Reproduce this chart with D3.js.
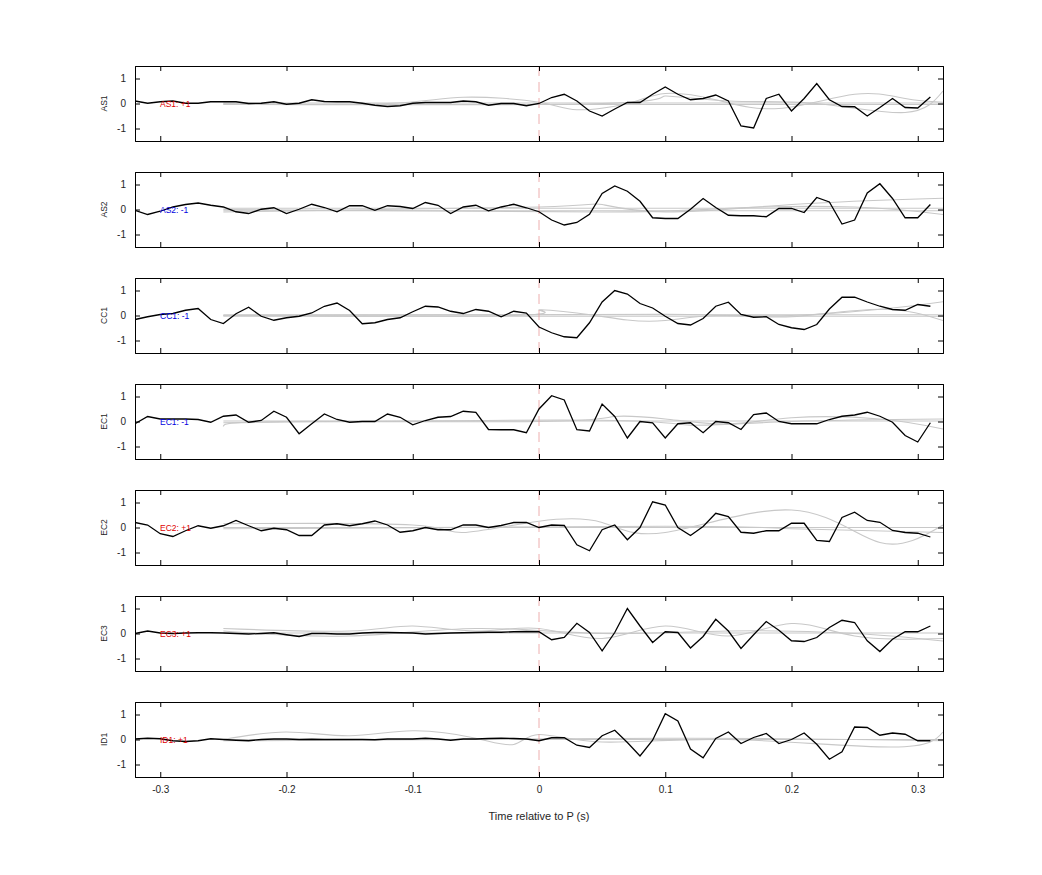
<!DOCTYPE html>
<html><head><meta charset="utf-8">
<script src="https://cdn.jsdelivr.net/npm/d3@7"></script>
<style>body{margin:0;background:#fff;font-family:"Liberation Sans",Arial,sans-serif}</style>
</head><body><div id="chart"></div>
<script>
// station names and polarity labels
const stations = ["AS1", "AS2", "CC1", "EC1", "EC2", "EC3", "ID1"];
const polarity = ["+1", "-1", "-1", "-1", "+1", "+1", "+1"];
const xTicks = [-0.3, -0.2, -0.1, 0, 0.1, 0.2, 0.3];
const yTicks = [-1, 0, 1];

// black trace, samples every 0.01 s from -0.32 to 0.31
const AS1 = [0.1,0.01,0.07,0.1,0.01,0.01,0.07,0.07,0.07,0,0.01,0.07,-0.03,0.01,0.15,0.08,0.07,0.07,0.01,-0.07,-0.12,-0.09,0.01,0.04,0.04,0.04,0.1,0.07,-0.07,0,0,-0.09,
  0,0.24,0.37,0.1,-0.3,-0.5,-0.22,0.04,0.04,0.37,0.66,0.37,0.15,0.2,0.34,0.1,-0.9,-0.98,0.2,0.37,-0.3,0.2,0.8,0.15,-0.12,-0.13,-0.5,-0.16,0.2,-0.16,-0.18,0.26];
const AS2 = [-0.03,-0.2,-0.07,0.1,0.2,0.26,0.17,0.1,-0.09,-0.16,0.01,0.07,-0.16,0.01,0.21,0.08,-0.09,0.15,0.15,-0.03,0.15,0.12,0.04,0.28,0.17,-0.16,0.1,0.17,-0.05,0.1,0.21,0.07,
  -0.09,-0.42,-0.62,-0.52,-0.19,0.64,0.94,0.73,0.33,-0.33,-0.36,-0.36,0.01,0.44,0.08,-0.23,-0.25,-0.25,-0.29,0.04,0.04,-0.12,0.48,0.3,-0.58,-0.42,0.66,1.03,0.44,-0.33,-0.33,0.2];
const CC1 = [-0.16,-0.05,0.04,0.08,0.21,0.28,-0.16,-0.32,0.07,0.33,-0.03,-0.19,-0.09,-0.03,0.1,0.37,0.5,0.2,-0.33,-0.29,-0.16,-0.09,0.15,0.37,0.34,0.17,0.08,0.24,0.17,-0.05,0.17,0.1,
  -0.46,-0.69,-0.85,-0.89,-0.29,0.54,1.0,0.86,0.48,0.3,-0.03,-0.32,-0.38,-0.12,0.37,0.53,0.04,-0.07,-0.05,-0.36,-0.49,-0.56,-0.36,0.26,0.73,0.73,0.54,0.37,0.24,0.21,0.44,0.37];
const EC1 = [-0.09,0.2,0.1,0.1,0.1,0.08,-0.03,0.21,0.26,-0.03,0.04,0.41,0.17,-0.49,-0.09,0.3,0.08,-0.03,0,0,0.3,0.17,-0.13,0.04,0.17,0.2,0.41,0.37,-0.32,-0.33,-0.33,-0.45,
  0.5,1.03,0.86,-0.33,-0.38,0.7,0.2,-0.66,0,-0.05,-0.66,-0.09,-0.05,-0.45,0,-0.05,-0.32,0.28,0.34,0,-0.09,-0.09,-0.09,0.08,0.21,0.26,0.37,0.21,-0.03,-0.56,-0.82,-0.05];
const EC2 = [0.2,0.1,-0.25,-0.36,-0.13,0.07,-0.03,0.07,0.28,0.07,-0.13,-0.03,-0.09,-0.32,-0.32,0.1,0.15,0.07,0.15,0.26,0.1,-0.19,-0.13,0,-0.09,-0.09,0.1,0.1,0,0.08,0.2,0.2,
  0,0.1,0.08,-0.69,-0.93,-0.09,0.1,-0.49,0,1.03,0.9,0,-0.32,0.04,0.57,0.44,-0.19,-0.23,-0.13,-0.13,0.17,0.17,-0.52,-0.56,0.4,0.61,0.28,0.21,-0.12,-0.2,-0.23,-0.38];
const EC3 = [0,0.1,0.02,0,0.02,0.03,0.03,0.02,0,-0.02,0,0.03,-0.05,-0.12,0,0,-0.02,-0.02,0.02,0.04,0.04,0.03,0.02,-0.02,0,0.02,0.03,0.04,0.05,0.05,0.07,0.08,
  0.07,-0.25,-0.16,0.41,0.04,-0.69,0.04,1.0,0.3,-0.36,0.07,0.04,-0.58,-0.12,0.57,0.1,-0.6,-0.05,0.48,0.13,-0.29,-0.32,-0.16,0.24,0.53,0.44,-0.29,-0.72,-0.23,0.07,0.07,0.3];
const ID1 = [0.02,0.05,0.03,-0.05,-0.08,-0.05,0.03,0,-0.03,-0.05,0,0.02,0.02,0,0.01,0,0,0,0,-0.01,0.02,0.02,0.02,0.05,0.02,-0.03,0.02,0.02,0.04,0.05,0.04,0.02,
  -0.05,0.07,0.07,-0.23,-0.32,0.15,0.37,-0.12,-0.66,-0.03,1.03,0.74,-0.38,-0.73,0.04,0.3,-0.16,0.08,0.24,-0.16,0,0.26,-0.19,-0.79,-0.49,0.5,0.48,0.17,0.26,0.21,-0.05,-0.05];
const traces = [AS1, AS2, CC1, EC1, EC2, EC3, ID1];
const times = d3.range(64).map(i => -0.32 + i * 0.01);

// gray synthetic traces, knots as [t, value]
const grays = [
  [[[-0.25,0.02],[0.32,0.02]], [[-0.25,-0.04],[0.32,-0.04]],
   [[-0.25,0],[-0.12,0],[-0.06,0.25],[0,0.05],[0.03,-0.25],[0.07,0],[0.1,0.4],[0.14,0.15],[0.19,-0.2],[0.25,0.37],[0.29,0.2],[0.32,0.05]],
   [[-0.25,-0.03],[0.05,0],[0.1,0.3],[0.15,0.1],[0.22,0],[0.29,-0.36],[0.32,0.5]]],
  [[[-0.25,0.05],[0.32,0.05]], [[-0.25,-0.05],[0.32,-0.05]],
   [[-0.25,-0.1],[0,0.1],[0.05,0.2],[0.1,-0.1],[0.2,0.2],[0.32,0.45]],
   [[-0.25,0],[0.05,-0.1],[0.15,0.05],[0.25,0.1],[0.32,-0.2]]],
  [[[-0.25,0.03],[0.32,0.03]], [[-0.25,-0.03],[0.32,-0.03]],
   [[-0.25,0],[-0.02,0],[0,0.22],[0.03,0.1],[0.07,-0.18],[0.1,-0.2],[0.14,0],[0.2,0],[0.28,0.3],[0.32,0.55]],
   [[-0.25,0],[0.1,0.05],[0.2,-0.05],[0.27,0.25],[0.32,-0.2]]],
  [[[-0.25,0.02],[0.32,0.02]],
   [[-0.25,-0.2],[-0.2,0],[0,0],[0.06,0.2],[0.1,0.1],[0.15,-0.1],[0.2,0.15],[0.27,0.1],[0.32,-0.3]],
   [[-0.25,-0.05],[0.05,0.05],[0.12,-0.15],[0.2,0],[0.32,0.1]]],
  [[[-0.25,0],[0.32,0]],
   [[-0.25,0.15],[-0.1,0.1],[-0.06,-0.2],[0,0.25],[0.05,0.2],[0.1,-0.2],[0.2,0.7],[0.27,-0.6],[0.32,0.1]],
   [[-0.25,-0.05],[0.1,0.05],[0.2,-0.05],[0.32,-0.2]]],
  [[[-0.25,0.02],[0.32,0.02]],
   [[-0.25,0.2],[-0.15,0.1],[-0.1,0.3],[-0.05,0.1],[0,0.2],[0.05,-0.2],[0.1,0.3],[0.15,-0.1],[0.2,0.4],[0.25,-0.1],[0.32,-0.2]],
   [[-0.25,0.1],[-0.15,-0.1],[-0.05,0.2],[0.05,0],[0.15,0.1],[0.25,0],[0.32,-0.3]]],
  [[[-0.25,0],[0.32,0]],
   [[-0.25,0],[-0.2,0.3],[-0.15,0.15],[-0.1,0.35],[-0.05,0.05],[-0.02,-0.2],[0,0.2],[0.05,-0.1],[0.15,0],[0.28,-0.3],[0.32,0.3]],
   [[-0.25,-0.05],[0.1,0.05],[0.25,0],[0.32,-0.05]]]
];

const width = 1042, height = 875;
const margin = { left: 135, right: 99 };
const panelTop = 66, panelH = 75, panelStep = 106;

const svg = d3.select("#chart").append("svg")
  .attr("width", width).attr("height", height)
  .attr("font-family", "Liberation Sans, Arial, sans-serif");

const x = d3.scaleLinear().domain([-0.32, 0.32]).range([margin.left, width - margin.right]);
const y = d3.scaleLinear().domain([-1.5, 1.5]).range([panelH, 0]);
const fmt = d => String(d);

stations.forEach((name, k) => {
  const g = svg.append("g").attr("transform", `translate(0,${panelTop + k * panelStep})`);
  const clipId = "clip" + k;
  g.append("clipPath").attr("id", clipId).append("rect")
    .attr("x", x.range()[0]).attr("y", 0).attr("width", x.range()[1] - x.range()[0]).attr("height", panelH);
  const plot = g.append("g").attr("clip-path", `url(#${clipId})`);

  const grayLine = d3.line().x(d => x(d[0])).y(d => y(d[1])).curve(d3.curveNatural);
  plot.selectAll("path.gray").data(grays[k]).join("path")
    .attr("class", "gray").attr("d", d => grayLine(d))
    .attr("fill", "none").attr("stroke", "#c8c8c8").attr("stroke-width", 1.1);

  plot.append("line").attr("x1", x(0)).attr("x2", x(0)).attr("y1", 0).attr("y2", panelH)
    .attr("stroke", "#e89a9a").attr("stroke-dasharray", "10,6").attr("stroke-width", 0.8);

  const line = d3.line().x((d, i) => x(times[i])).y(d => y(d));
  plot.append("path").datum(traces[k]).attr("d", line)
    .attr("fill", "none").attr("stroke", "#000").attr("stroke-width", 1.3);

  g.append("text").attr("x", 160).attr("y", y(0) + 3)
    .attr("font-size", 8.5).attr("fill", polarity[k] === "+1" ? "#e00000" : "#0000e0")
    .text(`${name}: ${polarity[k]}`);

  // axes (ticks inward)
  const ax = g.append("g");
  ax.append("g").attr("transform", `translate(0,${panelH})`)
    .call(d3.axisBottom(x).tickValues(xTicks).tickSize(-5).tickPadding(9)
      .tickFormat(k === stations.length - 1 ? fmt : ""));
  ax.append("g").call(d3.axisTop(x).tickValues(xTicks).tickSize(-5).tickFormat(""));
  ax.append("g").attr("transform", `translate(${margin.left},0)`)
    .call(d3.axisLeft(y).tickValues(yTicks).tickSize(-5).tickPadding(9).tickFormat(fmt));
  ax.append("g").attr("transform", `translate(${width - margin.right},0)`)
    .call(d3.axisRight(y).tickValues(yTicks).tickSize(-5).tickFormat(""));
  ax.selectAll(".domain").attr("stroke", "#000");
  ax.selectAll(".tick text").attr("font-size", 10).attr("fill", "#262626");

  g.append("text").attr("transform", `translate(107,${y(0)}) rotate(-90)`)
    .attr("text-anchor", "middle").attr("font-size", 8.5).attr("fill", "#262626").text(name);
});

svg.append("text").attr("x", x(0)).attr("y", 820).attr("text-anchor", "middle")
  .attr("font-size", 11).attr("fill", "#262626").text("Time relative to P (s)");
</script></body></html>
